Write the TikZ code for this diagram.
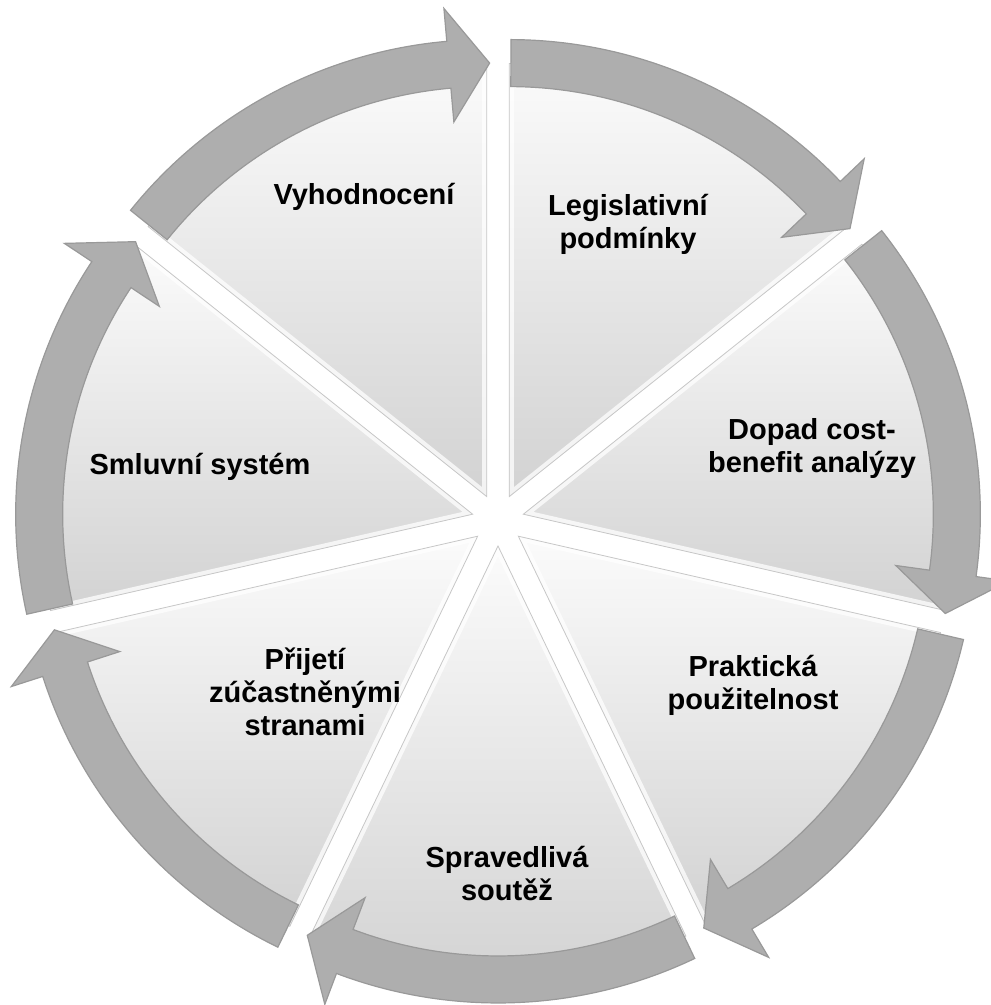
\documentclass[tikz,border=0pt]{standalone}
\usepackage{fontspec}
\setmainfont{Liberation Sans}
\definecolor{arrowfill}{HTML}{AEAEAE}
\definecolor{arrowline}{HTML}{999999}
\definecolor{segtop}{HTML}{FBFBFB}
\definecolor{segbot}{HTML}{D2D2D2}
\begin{document}
\begin{tikzpicture}[x=1pt,y=1pt,
  seg/.style={top color=segtop, bottom color=segbot, draw=none},
  rim/.style={draw=white, line width=9pt, opacity=0.75},
  edge/.style={draw=black!22, line width=0.8pt},
  arr/.style={fill=arrowfill, draw=arrowline, line width=1.2pt, line join=miter},
  lbl/.style={font=\fontsize{29}{33}\selectfont\bfseries, align=center, text=black, inner sep=0pt}]
\useasboundingbox (0,0) rectangle (991,1005);
\begin{scope}[shift={(498,485)}]
  % segments
  \foreach \b in {115.714,64.286,12.857,-38.571,-90,-141.429,-192.857} {
    \begin{scope}[shift={(\b:26)}]
      \path[seg] (0,0) -- (\b-25.714:433) arc[start angle=\b-25.714, end angle=\b+25.714, radius=433] -- cycle;
      \begin{scope}
        \clip (0,0) -- (\b-25.714:433) arc[start angle=\b-25.714, end angle=\b+25.714, radius=433] -- cycle;
        \path[rim] (0,0) -- (\b-25.714:433) arc[start angle=\b-25.714, end angle=\b+25.714, radius=433] -- cycle;
      \end{scope}
      \path[edge] (0,0) -- (\b-25.714:433) arc[start angle=\b-25.714, end angle=\b+25.714, radius=433] -- cycle;
    \end{scope}
  }
  % arrows
  \foreach \b in {115.714,64.286,12.857,-38.571,-90,-141.429,-192.857} {
    \begin{scope}[shift={(\b:26)}]
      \draw[arr] (\b+25.5:457) arc[start angle=\b+25.5, end angle=\b-20.7, radius=457]
        -- (\b-20.7:490) -- (\b-26.1:433.5) -- (\b-20.7:376) -- (\b-20.7:410)
        arc[start angle=\b-20.7, end angle=\b+25.5, radius=410] -- cycle;
    \end{scope}
  }
\end{scope}
\node[lbl] (vyh) at (364,808) {Vyhodnocení};
\node[lbl] (leg) at (628,781) {Legislativní\\podmínky};
\node[lbl] (dop) at (812,556) {Dopad cost-\\benefit analýzy};
\node[lbl] (sml) at (200,538) {Smluvní systém};
\node[lbl] (pra) at (753,320) {Praktická\\použitelnost};
\node[lbl] (pri) at (305,313) {Přijetí\\zúčastněnými\\stranami};
\node[lbl] (spr) at (507,131) {Spravedlivá\\soutěž};
\end{tikzpicture}
\end{document}
